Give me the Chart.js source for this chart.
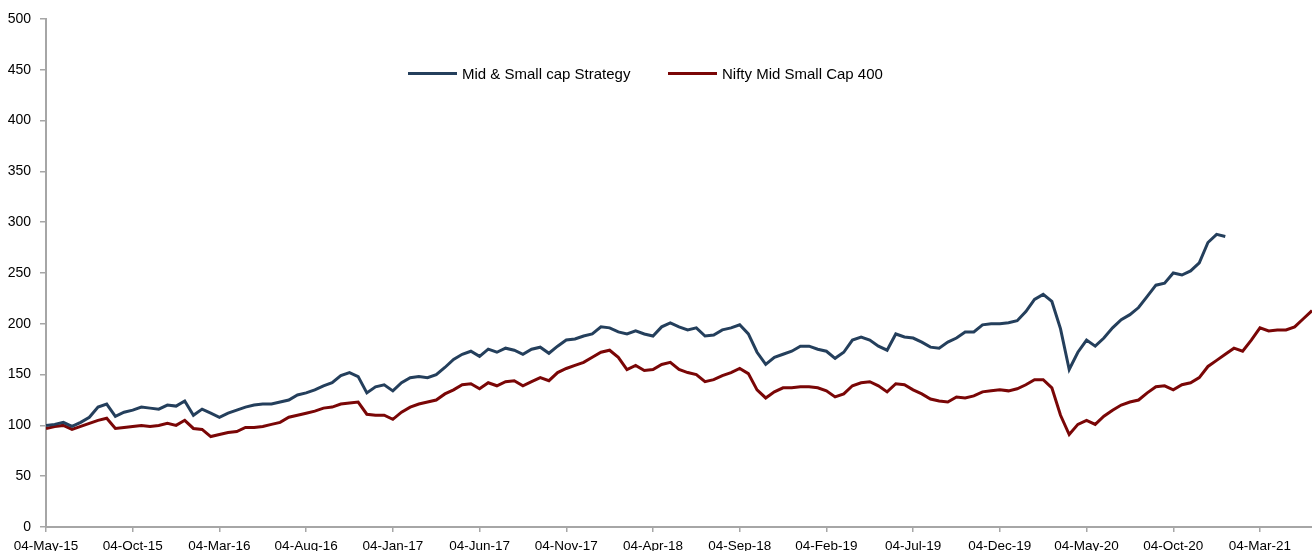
<!DOCTYPE html>
<html>
<head>
<meta charset="utf-8">
<script src="https://cdn.jsdelivr.net/npm/chart.js@4/dist/chart.umd.min.js"></script>
<style>
body { margin: 0; background: #fff; }
#wrap { position: relative; width: 1312px; height: 551px; }
.leg { position: absolute; top: 65px; display: flex; align-items: center; font: 15px "Liberation Sans", Arial, sans-serif; color: #000; white-space: nowrap; }
.leg span.ln { display: inline-block; width: 49px; height: 3px; margin-right: 5px; }
</style>
</head>
<body>
<div id="wrap">
<canvas id="perfChart" width="1312" height="551"></canvas>
<div class="leg" style="left:408px"><span class="ln" style="background:#243f5c"></span>Mid &amp; Small cap Strategy</div>
<div class="leg" style="left:668px"><span class="ln" style="background:#7a0606"></span>Nifty Mid Small Cap 400</div>
</div>
<script>
// half-monthly readings, 04-May-15 .. early Jun-21
const tickLabels = ["04-May-15","04-Oct-15","04-Mar-16","04-Aug-16","04-Jan-17","04-Jun-17","04-Nov-17","04-Apr-18","04-Sep-18","04-Feb-19","04-Jul-19","04-Dec-19","04-May-20","04-Oct-20","04-Mar-21"];

const strategy = [100,101,103,99,103,108,118,121,109,113,
115,118,117,116,120,119,124,110,116,112,
108,112,115,118,120,121,121,123,125,130,
132,135,139,142,149,152,148,132,138,140,
134,142,147,148,147,150,157,165,170,173,
168,175,172,176,174,170,175,177,171,178,
184,185,188,190,197,196,192,190,193,190,
188,197,201,197,194,196,188,189,194,196,
199,190,172,160,167,170,173,178,178,175,
173,166,172,184,187,184,178,174,190,187,
186,182,177,176,182,186,192,192,199,200,
200,201,203,212,224,229,222,195,155,172,
184,178,186,196,204,209,216,227,238,240,
250,248,252,260,280,288,286];

const nifty = [97,99,100,96,99,102,105,107,97,98,
99,100,99,100,102,100,105,97,96,89,
91,93,94,98,98,99,101,103,108,110,
112,114,117,118,121,122,123,111,110,110,
106,113,118,121,123,125,131,135,140,141,
136,142,139,143,144,139,143,147,144,152,
156,159,162,167,172,174,167,155,159,154,
155,160,162,155,152,150,143,145,149,152,
156,151,135,127,133,137,137,138,138,137,
134,128,131,139,142,143,139,133,141,140,
135,131,126,124,123,128,127,129,133,134,
135,134,136,140,145,145,137,110,91,101,
105,101,109,115,120,123,125,132,138,139,
135,140,142,147,158,164,170,176,173,184,
196,193,194,194,197,205,213];

const steps = nifty.map((v, i) => i);
const axisGrey = "#a6a6a6";

new Chart(document.getElementById("perfChart"), {
type: "line",
data: {
labels: steps,
datasets: [{
label: "Mid & Small cap Strategy",
data: strategy,
borderColor: "#243f5c",
borderWidth: 3,
pointRadius: 0,
tension: 0
}, {
label: "Nifty Mid Small Cap 400",
data: nifty,
borderColor: "#7a0606",
borderWidth: 3,
pointRadius: 0,
tension: 0
}]
},
options: {
responsive: false,
animation: false,
layout: { padding: { top: 19, right: 0, left: 0, bottom: 0 } },
plugins: { legend: { display: false }, tooltip: { enabled: false } },
scales: {
x: {
type: "linear",
min: 0,
max: steps.length - 1,
afterBuildTicks: s => { s.ticks = tickLabels.map((t, i) => ({ value: i * 10 })); },
afterFit: s => { s.height = 24; },
ticks: {
callback: v => tickLabels[v / 10],
autoSkip: false,
maxRotation: 0,
padding: 6,
color: "#000",
font: { family: "Liberation Sans", size: 13.5 }
},
grid: { drawOnChartArea: false, color: axisGrey, tickLength: 5, lineWidth: 1.5 },
border: { color: axisGrey, width: 2 }
},
y: {
min: 0,
max: 500,
afterFit: s => { s.width = 46; },
ticks: {
stepSize: 50,
padding: 9,
color: "#000",
font: { family: "Liberation Sans", size: 14 }
},
grid: { drawOnChartArea: false, color: axisGrey, tickLength: 6, lineWidth: 1.5 },
border: { color: axisGrey, width: 2 }
}
}
}
});
</script>
</body>
</html>
